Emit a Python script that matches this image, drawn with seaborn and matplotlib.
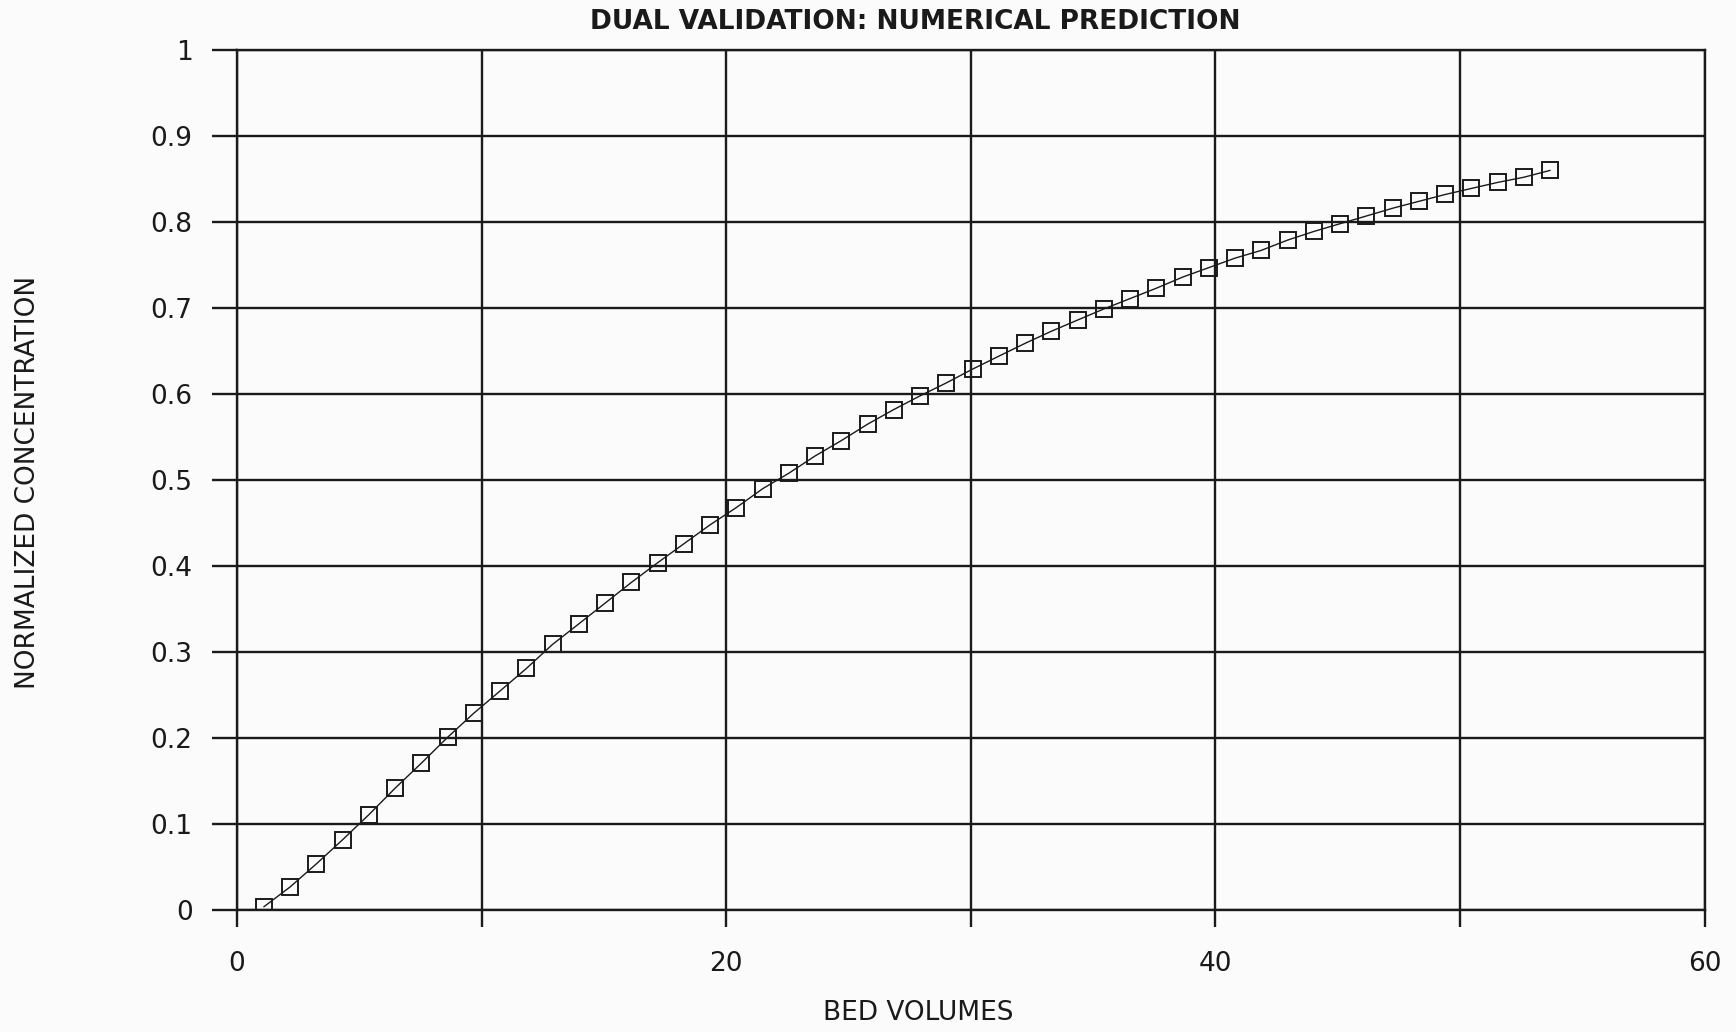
import matplotlib
matplotlib.use("Agg")
import matplotlib.pyplot as plt
from matplotlib.ticker import FixedLocator, FixedFormatter
import seaborn as sns
import pandas as pd

# Breakthrough curve: bed volumes vs normalized effluent concentration
bed_volumes = [
    1.10, 2.17, 3.25, 4.32, 5.39, 6.47, 7.54, 8.61, 9.68, 10.76,
    11.83, 12.90, 13.98, 15.05, 16.12, 17.20, 18.27, 19.34, 20.41, 21.49,
    22.56, 23.63, 24.71, 25.78, 26.85, 27.93, 29.00, 30.07, 31.14, 32.22,
    33.29, 34.36, 35.44, 36.51, 37.58, 38.66, 39.73, 40.80, 41.87, 42.95,
    44.02, 45.09, 46.17, 47.24, 48.31, 49.39, 50.46, 51.53, 52.60, 53.68,
]
normalized_conc = [
    0.004, 0.027, 0.054, 0.082, 0.111, 0.142, 0.171, 0.201, 0.229, 0.255,
    0.281, 0.309, 0.333, 0.357, 0.381, 0.404, 0.426, 0.448, 0.468, 0.490,
    0.508, 0.528, 0.546, 0.565, 0.582, 0.598, 0.613, 0.629, 0.644, 0.659,
    0.673, 0.686, 0.699, 0.711, 0.723, 0.736, 0.747, 0.758, 0.767, 0.779,
    0.789, 0.798, 0.807, 0.816, 0.824, 0.832, 0.839, 0.846, 0.852, 0.860,
]

x_major = [0, 20, 40, 60]
x_minor = [10, 30, 50]
y_ticks = [0, 0.1, 0.2, 0.3, 0.4, 0.5, 0.6, 0.7, 0.8, 0.9, 1.0]
y_tick_labels = ["0", "0.1", "0.2", "0.3", "0.4", "0.5", "0.6", "0.7", "0.8", "0.9", "1"]

title = "DUAL VALIDATION: NUMERICAL PREDICTION"
x_label = "BED VOLUMES"
y_label = "NORMALIZED CONCENTRATION"

sns.set_theme(style="white")
plt.rcParams["font.family"] = ["DejaVu Sans"]

bg = "#fbfbfb"
ink = "#1a1a1a"

fig = plt.figure(figsize=(17.36, 10.32), dpi=100, facecolor=bg)
ax = fig.add_axes([0.1365, 0.118, 0.8455, 0.8336])
ax.set_facecolor(bg)

df = pd.DataFrame({"bv": bed_volumes, "c": normalized_conc})
sns.lineplot(
    data=df, x="bv", y="c", ax=ax, color=ink, linewidth=1.0,
    marker="s", markersize=11.5, markerfacecolor="none",
    markeredgecolor=ink, markeredgewidth=1.4, estimator=None, sort=False,
)

ax.set_xlim(0, 60)
ax.set_ylim(0, 1)

ax.xaxis.set_major_locator(FixedLocator(x_major))
ax.xaxis.set_minor_locator(FixedLocator(x_minor))
ax.yaxis.set_major_locator(FixedLocator(y_ticks))
ax.yaxis.set_major_formatter(FixedFormatter(y_tick_labels))

ax.grid(True, which="both", color=ink, linewidth=1.7)
ax.set_axisbelow(True)

ax.tick_params(axis="x", which="both", direction="out", length=12, width=1.7,
               color=ink, labelsize=19, pad=17, labelcolor=ink, bottom=True)
ax.tick_params(axis="y", which="major", direction="out", length=18, width=1.7,
               color=ink, labelsize=19, pad=14, labelcolor=ink, left=True)

for s in ax.spines.values():
    s.set_color(ink)
    s.set_linewidth(1.7)

ax.set_xlabel("")
ax.set_ylabel("")

fig.text(0.527, 0.979, title, ha="center", va="center", fontsize=19,
         color=ink, fontweight="bold")
fig.text(0.529, 0.018, x_label, ha="center", va="center", fontsize=19,
         color=ink)
fig.text(0.016, 0.533, y_label, ha="center", va="center", fontsize=19,
         color=ink, rotation=90)

fig.savefig("out.png", dpi=100, facecolor=bg)
